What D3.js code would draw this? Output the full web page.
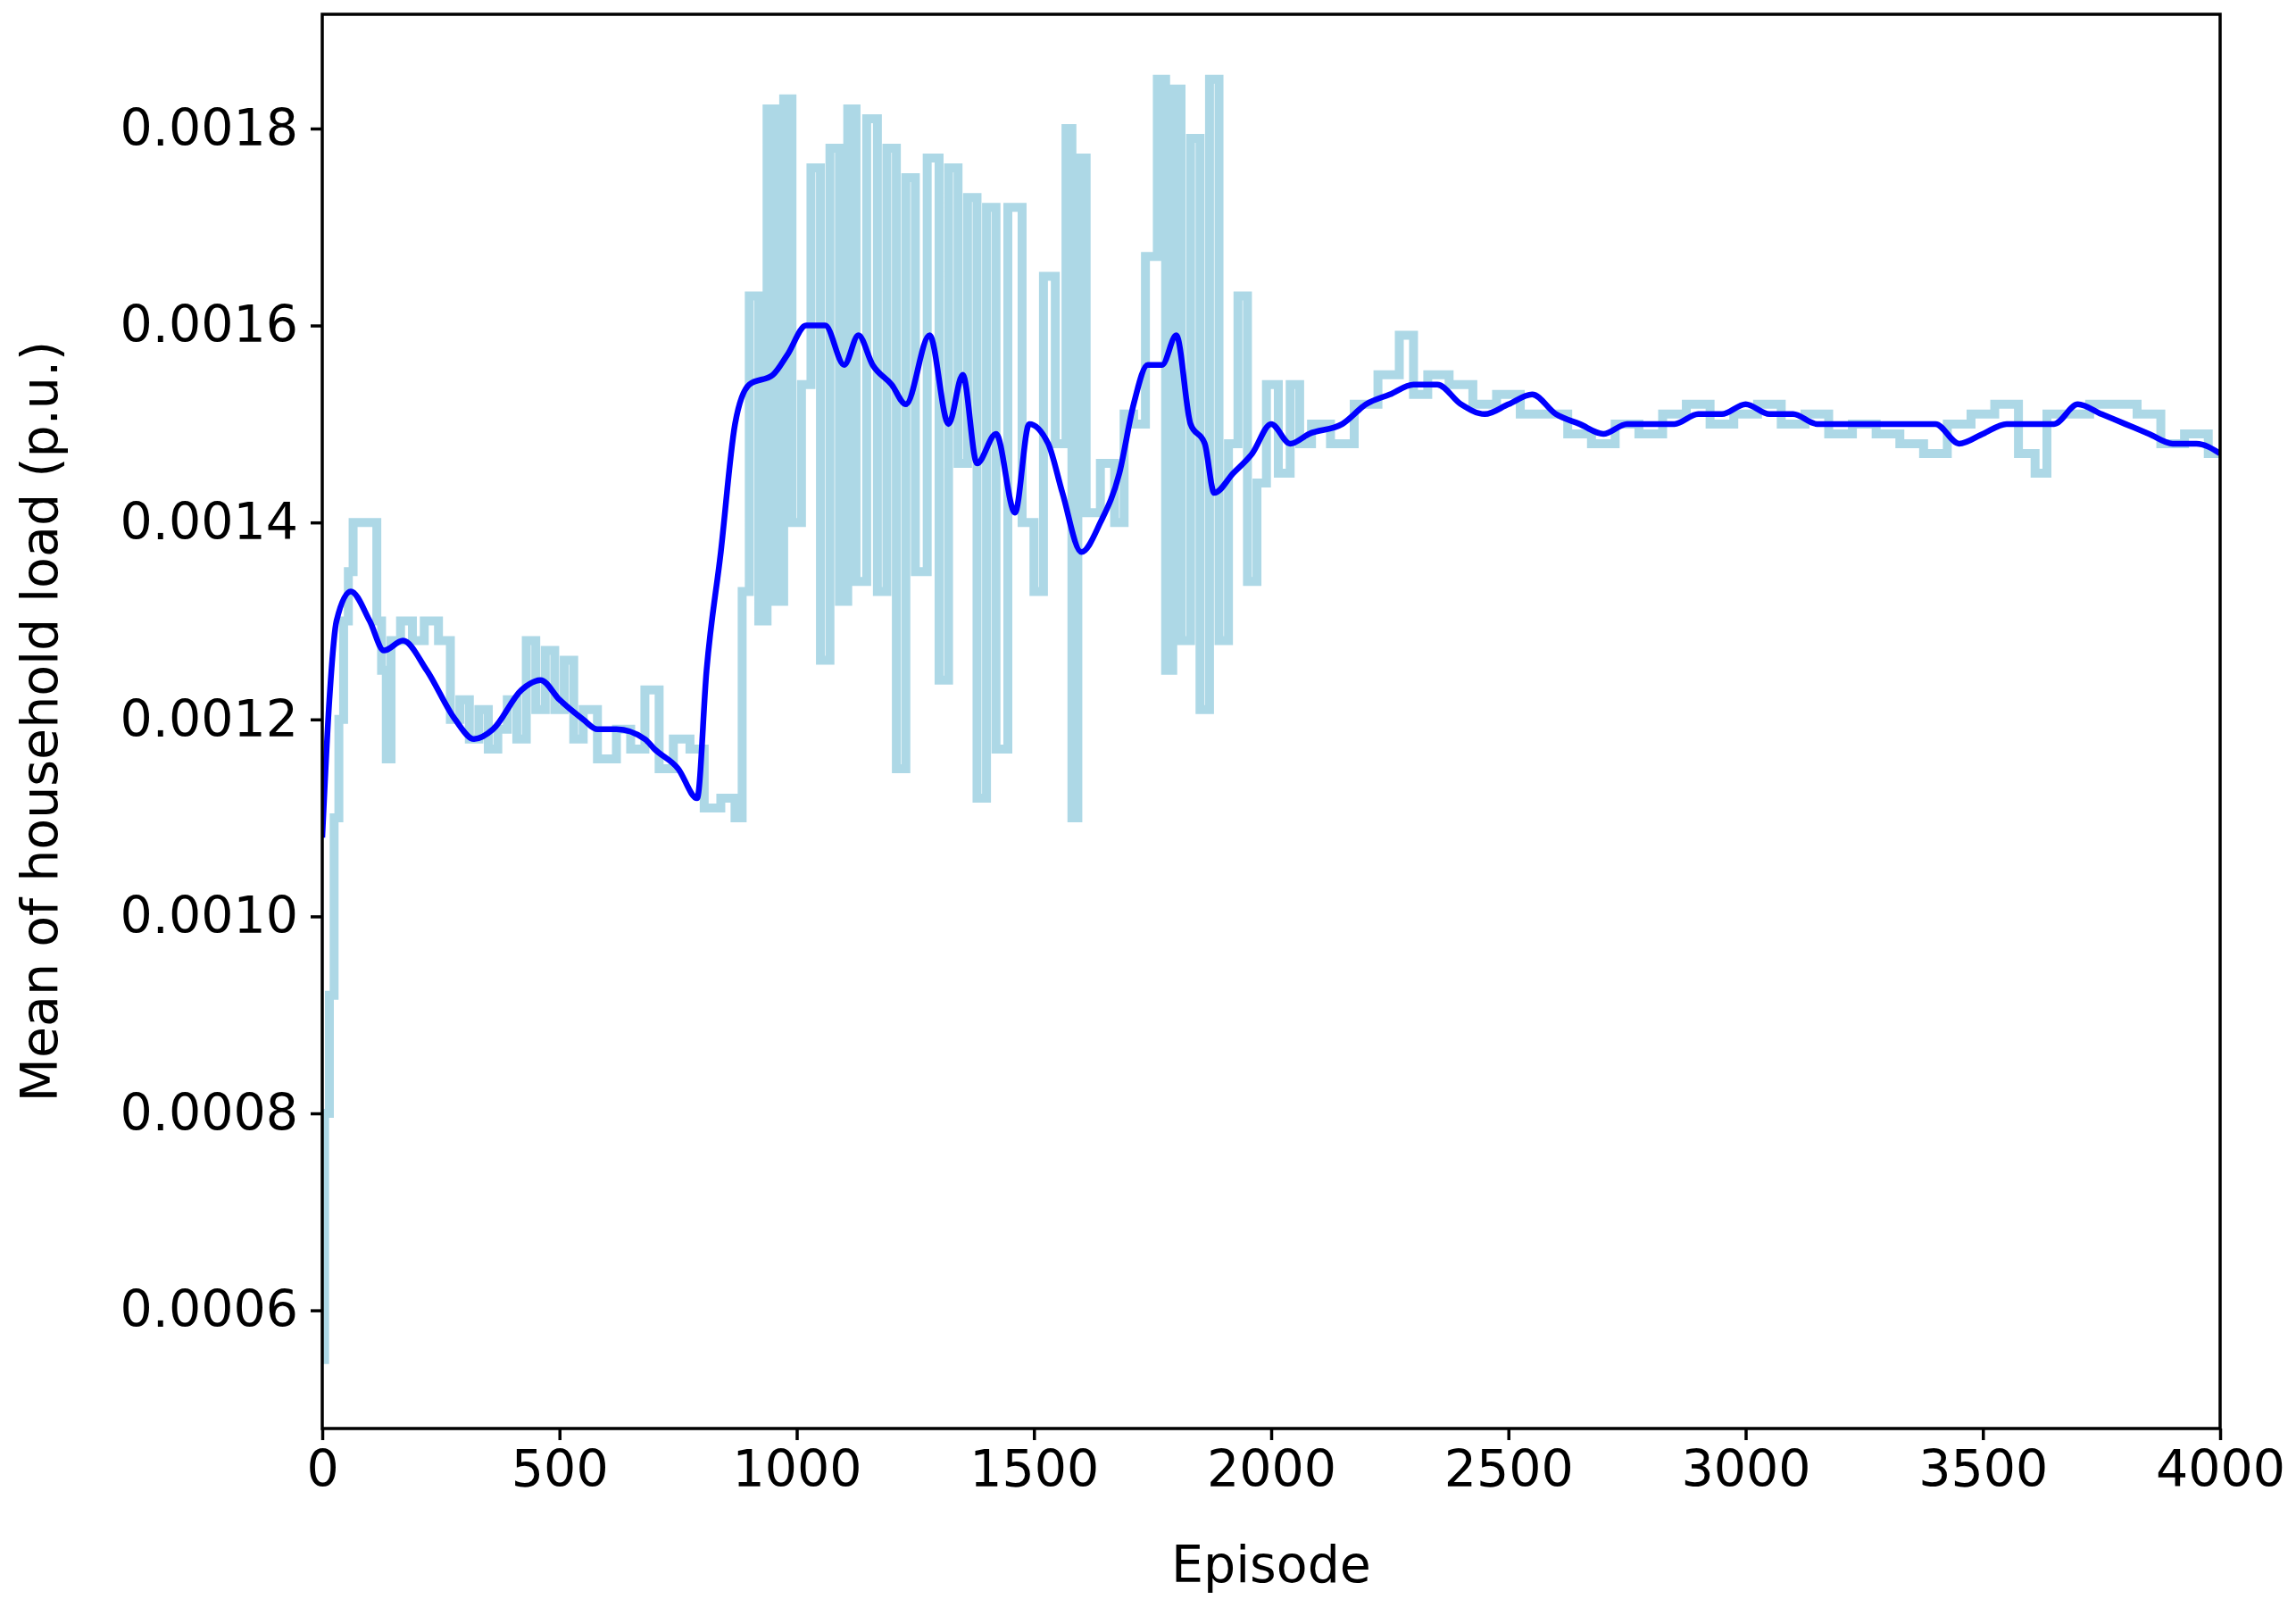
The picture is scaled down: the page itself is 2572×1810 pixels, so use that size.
<!DOCTYPE html>
<html>
<head>
<meta charset="utf-8">
<script src="https://cdn.jsdelivr.net/npm/d3@7"></script>
<style>
  body { margin: 0; background: #fff; }
  text { font-family: "DejaVu Sans", sans-serif; }
</style>
</head>
<body>
<div id="chart"></div>
<script>
// raw episode values (light blue)
const rawEpisodes = [0,10,20,30,40,50,60,70,110,120,130,140,150,180,200,230,260,280,300,320,340,360,380,400,420,440,460,480,500,520,540,560,600,640,660,700,720,760,790,820,860,880,890,910,930,945,965,980,1000,1020,1040,1060,1080,1100,1115,1135,1160,1180,1200,1220,1240,1260,1290,1310,1330,1350,1370,1390,1410,1430,1460,1490,1510,1530,1560,1575,1585,1600,1620,1660,1680,1700,1720,1750,1770,1785,1800,1820,1840,1860,1880,1900,1920,1940,1960,1980,2000,2030,2050,2070,2100,2150,2200,2250,2290,2310,2350,2400,2450,2500,2550,2600,2650,2700,2750,2800,2850,2900,2950,3000,3050,3100,3150,3200,3250,3300,3350,3400,3450,3500,3550,3600,3620,3650,3700,3750,3800,3850,3900,3950,4000];
const rawValues = [0.00055,0.0008,0.00092,0.0011,0.0012,0.0013,0.00135,0.0014,0.0014,0.0013,0.00125,0.00116,0.00128,0.0013,0.00128,0.0013,0.00128,0.0012,0.00122,0.00118,0.00121,0.00117,0.00119,0.00122,0.00118,0.00128,0.00121,0.00127,0.00121,0.00126,0.00118,0.00121,0.00116,0.00119,0.00117,0.00123,0.00115,0.00118,0.00117,0.00111,0.00112,0.0011,0.00133,0.00163,0.0013,0.00182,0.00132,0.00183,0.0014,0.00154,0.00176,0.00126,0.00178,0.00132,0.00182,0.00134,0.00181,0.00133,0.00178,0.00115,0.00175,0.00135,0.00177,0.00124,0.00176,0.00146,0.00173,0.00112,0.00172,0.00117,0.00172,0.0014,0.00133,0.00165,0.00148,0.0018,0.0011,0.00177,0.00141,0.00146,0.0014,0.00151,0.0015,0.00167,0.00185,0.00125,0.00184,0.00128,0.00179,0.00121,0.00185,0.00128,0.00148,0.00163,0.00134,0.00144,0.00154,0.00145,0.00154,0.00148,0.0015,0.00148,0.00152,0.00155,0.00159,0.00153,0.00155,0.00154,0.00152,0.00153,0.00151,0.00151,0.00149,0.00148,0.0015,0.00149,0.00151,0.00152,0.0015,0.00151,0.00152,0.0015,0.00151,0.00149,0.0015,0.00149,0.00148,0.00147,0.0015,0.00151,0.00152,0.00147,0.00145,0.00151,0.00151,0.00152,0.00152,0.00151,0.00148,0.00149,0.00147];

// smoothed mean (blue)
const smoothEpisodes = [0,15,30,60,100,130,170,220,280,320,360,420,460,500,550,580,620,680,700,750,790,810,840,870,900,950,980,1020,1060,1100,1130,1160,1200,1230,1280,1320,1350,1380,1420,1460,1490,1530,1560,1600,1640,1680,1710,1740,1770,1800,1830,1860,1880,1920,1960,2000,2040,2080,2150,2200,2250,2300,2350,2400,2450,2500,2550,2600,2650,2700,2750,2800,2850,2900,2950,3000,3050,3100,3150,3200,3300,3400,3450,3500,3550,3600,3650,3700,3750,3800,3850,3900,3950,4000];
const smoothValues = [0.00108,0.00122,0.0013,0.00133,0.0013,0.00127,0.00128,0.00125,0.0012,0.00118,0.00119,0.00123,0.00124,0.00122,0.0012,0.00119,0.00119,0.00118,0.00117,0.00115,0.00112,0.00125,0.00137,0.0015,0.00154,0.00155,0.00157,0.0016,0.0016,0.00156,0.00159,0.00156,0.00154,0.00152,0.00159,0.0015,0.00155,0.00146,0.00149,0.00141,0.0015,0.00148,0.00143,0.00137,0.0014,0.00145,0.00152,0.00156,0.00156,0.00159,0.0015,0.00148,0.00143,0.00145,0.00147,0.0015,0.00148,0.00149,0.0015,0.00152,0.00153,0.00154,0.00154,0.00152,0.00151,0.00152,0.00153,0.00151,0.0015,0.00149,0.0015,0.0015,0.0015,0.00151,0.00151,0.00152,0.00151,0.00151,0.0015,0.0015,0.0015,0.0015,0.00148,0.00149,0.0015,0.0015,0.0015,0.00152,0.00151,0.0015,0.00149,0.00148,0.00148,0.00147];

const xTicks = [0,500,1000,1500,2000,2500,3000,3500,4000];
const yTicks = [0.0006,0.0008,0.0010,0.0012,0.0014,0.0016,0.0018];

const width = 2572;
const height = 1810;
const margin = { top: 16, right: 85, bottom: 210, left: 361 };

const svg = d3.select('#chart').append('svg')
  .attr('width', width)
  .attr('height', height);

const x = d3.scaleLinear().domain([0, 4000]).range([margin.left, width - margin.right]);
const y = d3.scaleLinear().domain([0.00048, 0.001916]).range([height - margin.bottom, margin.top]);

const raw = rawEpisodes.map((e, i) => [e, rawValues[i]]);
const smooth = smoothEpisodes.map((e, i) => [e, smoothValues[i]]);

const line = d3.line().x(d => x(d[0])).y(d => y(d[1]));

svg.append('clipPath').attr('id', 'clip').append('rect')
  .attr('x', margin.left).attr('y', margin.top)
  .attr('width', width - margin.left - margin.right)
  .attr('height', height - margin.top - margin.bottom);

svg.append('path').datum(raw)
  .attr('clip-path', 'url(#clip)')
  .attr('fill', 'none')
  .attr('stroke', '#add8e6')
  .attr('stroke-width', 10)
  .attr('d', line.curve(d3.curveStep));

svg.append('path').datum(smooth)
  .attr('clip-path', 'url(#clip)')
  .attr('fill', 'none')
  .attr('stroke', '#0000ff')
  .attr('stroke-width', 6.5)
  .attr('stroke-linejoin', 'round')
  .attr('d', line.curve(d3.curveMonotoneX));

// axes
const xAxis = svg.append('g')
  .attr('transform', `translate(0,${height - margin.bottom})`)
  .call(d3.axisBottom(x).tickValues(xTicks).tickSize(13).tickPadding(12).tickFormat(d3.format('d')));
const yAxis = svg.append('g')
  .attr('transform', `translate(${margin.left},0)`)
  .call(d3.axisLeft(y).tickValues(yTicks).tickSize(13).tickPadding(14).tickFormat(d3.format('.4f')));

[xAxis, yAxis].forEach(g => {
  g.select('.domain').remove();
  g.selectAll('line').attr('stroke', '#000').attr('stroke-width', 3.5);
  g.selectAll('text').attr('font-size', 57).attr('fill', '#000')
    .attr('font-family', '"DejaVu Sans", sans-serif');
});

// frame
svg.append('rect')
  .attr('x', margin.left).attr('y', margin.top)
  .attr('width', width - margin.left - margin.right)
  .attr('height', height - margin.top - margin.bottom)
  .attr('fill', 'none').attr('stroke', '#000').attr('stroke-width', 3.5);

svg.append('text')
  .attr('x', (margin.left + width - margin.right) / 2)
  .attr('y', 1772)
  .attr('text-anchor', 'middle')
  .attr('font-size', 57)
  .text('Episode');

svg.append('text')
  .attr('transform', `translate(64,${(margin.top + height - margin.bottom) / 2}) rotate(-90)`)
  .attr('text-anchor', 'middle')
  .attr('font-size', 57)
  .text('Mean of household load (p.u.)');
</script>
</body>
</html>
